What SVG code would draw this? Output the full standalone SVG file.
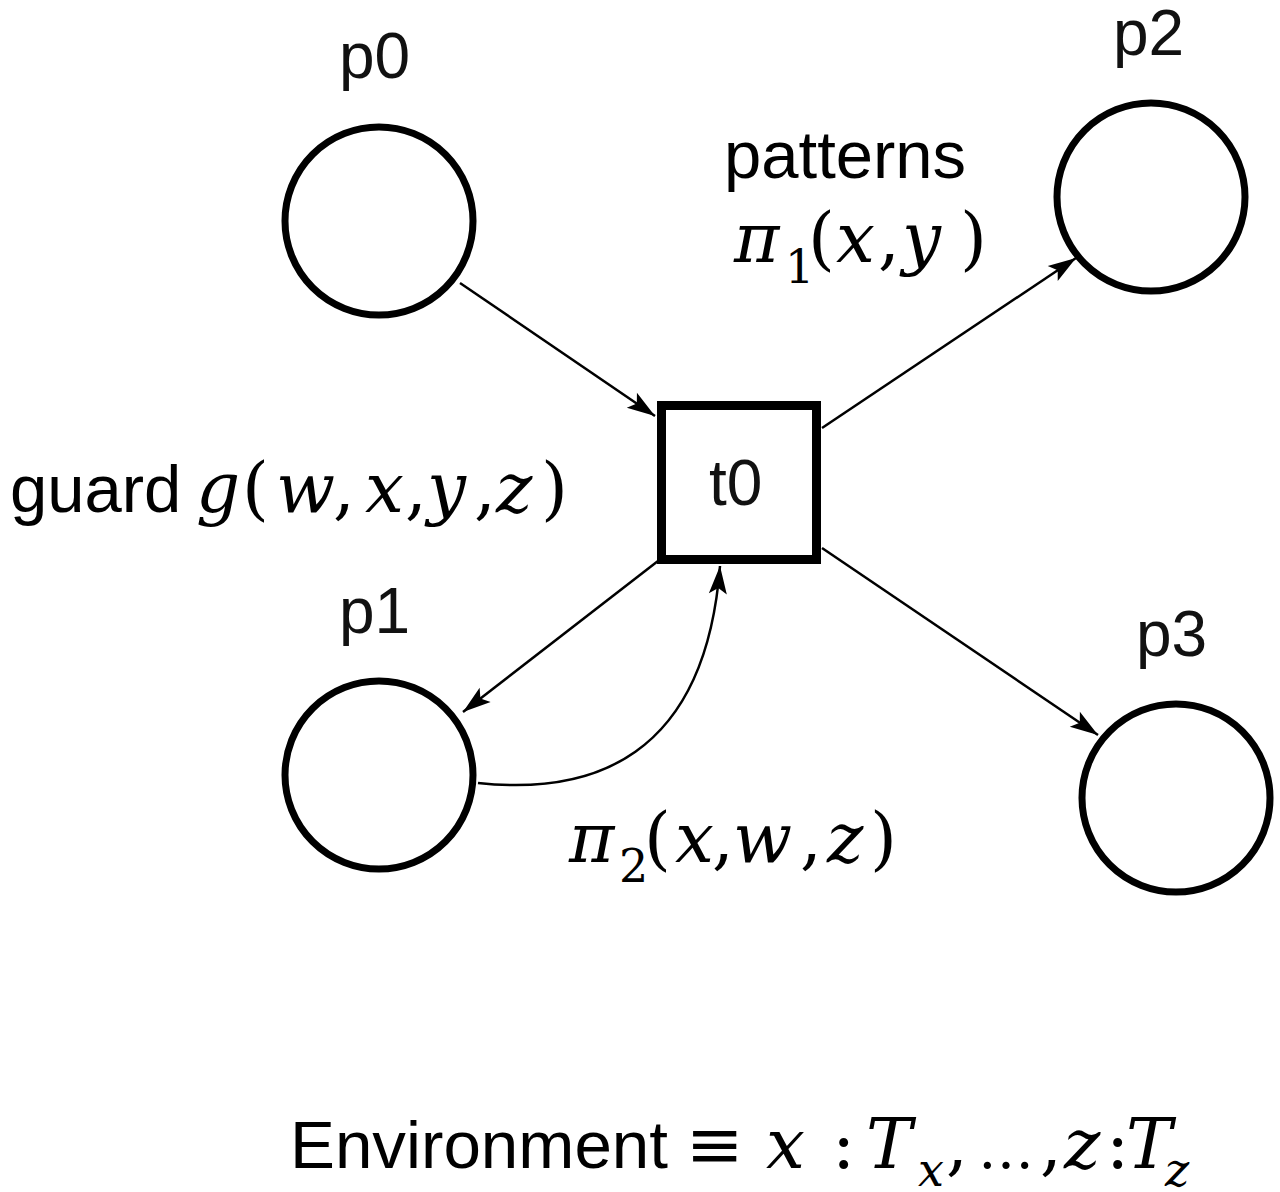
<svg xmlns="http://www.w3.org/2000/svg" width="1280" height="1192" viewBox="0 0 1280 1192">
  <style>
    .place { fill: none; stroke: #000; stroke-width: 7; }
    .trans { fill: none; stroke: #000; stroke-width: 9; }
    .arc { fill: none; stroke: #000; stroke-width: 2.5; marker-end: url(#head); }
    .lbl { font-family: "Liberation Sans", Arial, sans-serif; font-size: 64px; fill: #111; }
    .txt { font-family: "Liberation Sans", Arial, sans-serif; font-size: 67px; fill: #000; }
    .m { font-family: "DejaVu Serif", "Liberation Serif", serif; font-size: 69px; fill: #000; }
    .i { font-style: italic; }
    .sub { font-size: 46px; }
  </style>
  <defs>
    <marker id="head" markerUnits="userSpaceOnUse" viewBox="-30 -12 32 24" markerWidth="32" markerHeight="24" refX="0" refY="0" orient="auto">
      <path d="M0,0 L-28,-9 L-22,0 L-28,9 Z" fill="#000"/>
    </marker>
  </defs>

  <rect width="1280" height="1192" fill="#fff"/>

  <!-- arcs -->
  <g id="connectors">
    <path class="arc" d="M460,283 L655,416"/>
    <path class="arc" d="M822,428 L1076,258"/>
    <path class="arc" d="M822,548 L1098,735"/>
    <path class="arc" d="M658,561 L463,712"/>
    <path class="arc" d="M478,783 C590,795 705,760 720,566"/>
  </g>

  <!-- places -->
  <g id="p0">
    <circle class="place" cx="379" cy="221" r="94"/>
    <text class="lbl" x="339" y="78">p0</text>
  </g>
  <g id="p1">
    <circle class="place" cx="379" cy="775" r="94"/>
    <text class="lbl" x="339" y="633">p1</text>
  </g>
  <g id="p2">
    <circle class="place" cx="1151" cy="197" r="94"/>
    <text class="lbl" x="1113" y="55">p2</text>
  </g>
  <g id="p3">
    <circle class="place" cx="1176" cy="798" r="94"/>
    <text class="lbl" x="1136" y="656">p3</text>
  </g>

  <!-- transition -->
  <g id="t0">
    <rect class="trans" x="661.5" y="405.5" width="155" height="154"/>
    <text class="lbl" x="709" y="505">t0</text>
  </g>

  <!-- annotations -->
  <g id="patterns-label">
    <text class="txt" x="724" y="178">patterns</text>
    <text class="m" y="262"><tspan class="i" x="734">π</tspan><tspan class="sub" x="785" y="283">1</tspan><tspan x="808" y="262">(</tspan><tspan class="i" x="836">x</tspan><tspan x="878">,</tspan><tspan class="i" x="902">y</tspan><tspan x="960">)</tspan></text>
  </g>

  <g id="guard-label">
    <text class="txt" x="10" y="512">guard</text>
    <text class="m" y="512"><tspan class="i" x="196">g</tspan><tspan x="242">(</tspan><tspan class="i" x="276">w</tspan><tspan x="333">,</tspan><tspan class="i" x="365">x</tspan><tspan x="405">,</tspan><tspan class="i" x="427">y</tspan><tspan x="474">,</tspan><tspan class="i" x="496">z</tspan><tspan x="541">)</tspan></text>
  </g>

  <g id="pattern2-label">
    <text class="m" y="862"><tspan class="i" x="569">π</tspan><tspan class="sub" x="619" y="882">2</tspan><tspan x="644" y="862">(</tspan><tspan class="i" x="675">x</tspan><tspan x="712">,</tspan><tspan class="i" x="733">w</tspan><tspan x="800">,</tspan><tspan class="i" x="827">z</tspan><tspan x="870">)</tspan></text>
  </g>

  <g id="environment-label">
    <text class="txt" x="290" y="1168" textLength="378" lengthAdjust="spacingAndGlyphs">Environment</text>
    <text class="m" y="1168"><tspan x="686">≡</tspan><tspan class="i" x="766">x</tspan><tspan x="832">:</tspan><tspan class="i" x="866">T</tspan><tspan class="i sub" x="918" y="1186">x</tspan><tspan x="946" y="1168">,</tspan><tspan x="978" font-size="56">…</tspan><tspan x="1040">,</tspan><tspan class="i" x="1064">z</tspan><tspan x="1106">:</tspan><tspan class="i" x="1126">T</tspan><tspan class="i sub" x="1165" y="1186">z</tspan></text>
  </g>
</svg>
